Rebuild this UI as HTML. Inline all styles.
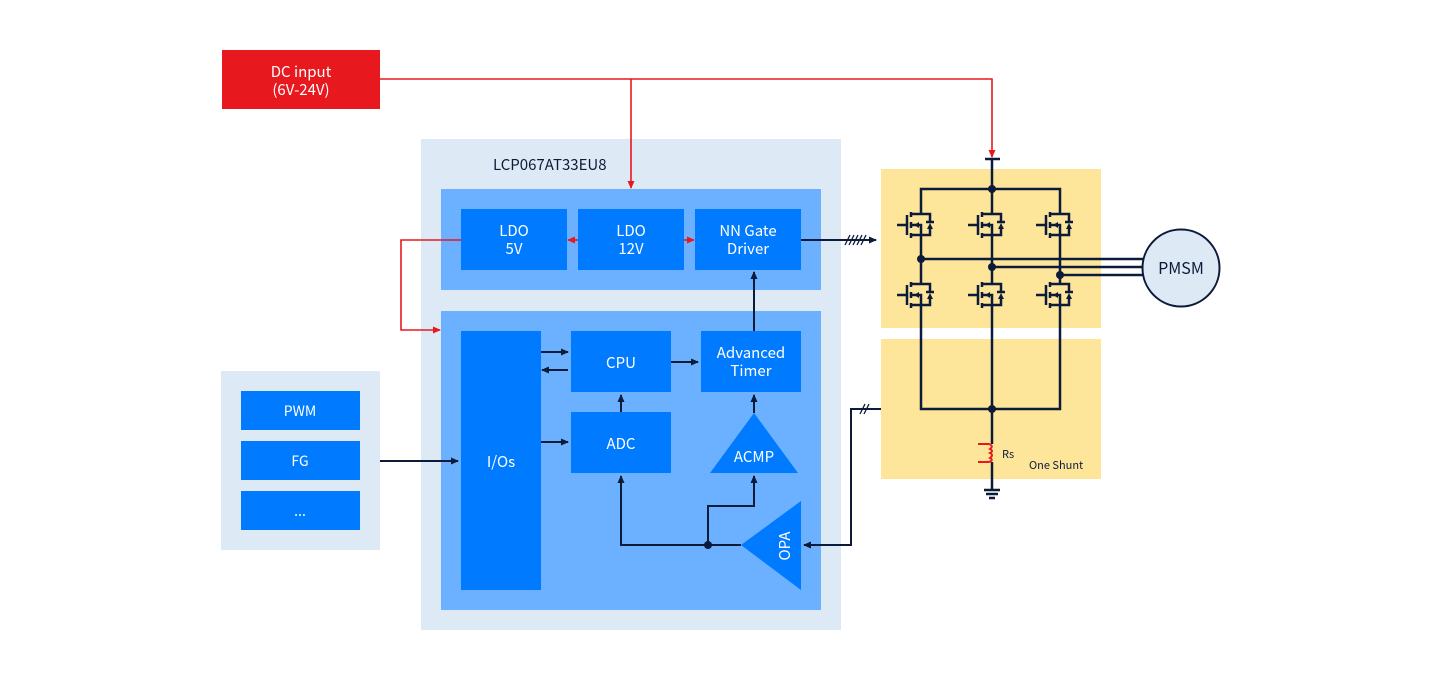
<!DOCTYPE html>
<html><head><meta charset="utf-8"><style>
html,body{margin:0;padding:0;background:#fff;}
svg{display:block;font-family:"Noto Sans CJK SC","Liberation Sans",sans-serif;}
</style></head><body>
<svg width="1440" height="680" viewBox="0 0 1440 680" xmlns="http://www.w3.org/2000/svg">
<defs>
<marker id="ad" markerWidth="8" markerHeight="8" refX="7" refY="4" orient="auto" markerUnits="userSpaceOnUse"><path d="M0,0.5 L8,4 L0,7.5 Z" fill="#0d1b3a"/></marker>
<marker id="ar" markerWidth="8" markerHeight="8" refX="7" refY="4" orient="auto" markerUnits="userSpaceOnUse"><path d="M0,0.5 L8,4 L0,7.5 Z" fill="#e8191e"/></marker>
<g id="fet" fill="none" stroke="#0d1b3a" stroke-width="2.5">
<line x1="-24" y1="0" x2="-14" y2="0"/>
<line x1="-14" y1="-10" x2="-14" y2="10"/>
<line x1="-10" y1="-13" x2="-10" y2="-8"/>
<line x1="-10" y1="-3" x2="-10" y2="3"/>
<line x1="-10" y1="8" x2="-10" y2="13"/>
<polyline points="-10,-11 0,-11 9,-11 9,-3"/>
<line x1="5" y1="-3" x2="13" y2="-3"/>
<polyline points="9,1 9,10 -10,10"/>
<polyline points="-10,0 0,0 0,10"/>
<path d="M-7,0 L-2,-3 L-2,3Z" fill="#0d1b3a" stroke="none"/>
<path d="M9,-2 L6,4 L12,4Z" fill="#0d1b3a" stroke="none"/>
</g>
</defs>

<rect x="222" y="50" width="158" height="59" fill="#e8191e"/>
<text x="301" y="77" fill="#fff" font-size="15" text-anchor="middle">DC input</text>
<text x="301" y="95" fill="#fff" font-size="15" text-anchor="middle">(6V-24V)</text>

<rect x="421" y="139" width="420" height="491" fill="#dde9f5"/>
<text x="493" y="170" fill="#0d1b3a" font-size="15">LCP067AT33EU8</text>
<rect x="441" y="189" width="380" height="101" fill="#6cb1ff"/>
<rect x="441" y="311" width="380" height="299" fill="#6cb1ff"/>

<g fill="#007aff">
<rect x="461" y="209" width="106" height="61"/>
<rect x="578" y="209" width="106" height="61"/>
<rect x="695" y="209" width="106" height="61"/>
<rect x="461" y="331" width="80" height="259"/>
<rect x="571" y="331" width="100" height="61"/>
<rect x="701" y="331" width="100" height="61"/>
<rect x="571" y="412" width="100" height="61"/>
<polygon points="754,413 798,473 710,473"/>
<polygon points="741,545 801,501 801,590"/>
</g>
<g fill="#fff" font-size="15" text-anchor="middle">
<text x="514" y="236">LDO</text><text x="514" y="254">5V</text>
<text x="631" y="236">LDO</text><text x="631" y="254">12V</text>
<text x="748" y="236">NN Gate</text><text x="748" y="254">Driver</text>
<text x="621" y="368">CPU</text>
<text x="751" y="358">Advanced</text><text x="751" y="376">Timer</text>
<text x="621" y="449">ADC</text>
<text x="754" y="462">ACMP</text>
<text x="501" y="467">I/Os</text>
<text x="0" y="0" transform="translate(790,546) rotate(-90)">OPA</text>
</g>

<rect x="221" y="371" width="159" height="179" fill="#dde9f5"/>
<g fill="#007aff">
<rect x="241" y="391" width="119" height="39"/>
<rect x="241" y="441" width="119" height="39"/>
<rect x="241" y="491" width="119" height="39"/>
</g>
<g fill="#fff" font-size="14" text-anchor="middle">
<text x="300" y="416">PWM</text><text x="300" y="466">FG</text><text x="300" y="516">...</text>
</g>

<g fill="none" stroke="#e8191e" stroke-width="1.6">
<polyline points="380,79 992,79 992,157" marker-end="url(#ar)"/>
<line x1="631" y1="79" x2="631" y2="188" marker-end="url(#ar)"/>
<line x1="578" y1="240" x2="568" y2="240" marker-end="url(#ar)"/>
<line x1="684" y1="240" x2="694" y2="240" marker-end="url(#ar)"/>
<polyline points="461,240 401,240 401,330 440,330" marker-end="url(#ar)"/>
</g>

<g fill="none" stroke="#0d1b3a" stroke-width="2">
<line x1="801" y1="240" x2="876" y2="240" marker-end="url(#ad)"/>
<line x1="541" y1="352" x2="568" y2="352" marker-end="url(#ad)"/>
<line x1="568" y1="370" x2="542" y2="370" marker-end="url(#ad)"/>
<line x1="541" y1="442" x2="568" y2="442" marker-end="url(#ad)"/>
<line x1="671" y1="362" x2="698" y2="362" marker-end="url(#ad)"/>
<line x1="754" y1="331" x2="754" y2="272" marker-end="url(#ad)"/>
<line x1="621" y1="412" x2="621" y2="395" marker-end="url(#ad)"/>
<line x1="754" y1="413" x2="754" y2="395" marker-end="url(#ad)"/>
<polyline points="741,545 621,545 621,476" marker-end="url(#ad)"/>
<polyline points="708,545 708,506 754,506 754,476" marker-end="url(#ad)"/>
<line x1="380" y1="461" x2="458" y2="461" marker-end="url(#ad)"/>
<polyline points="881,409 851,409 851,545 804,545" marker-end="url(#ad)"/>
</g>
<circle cx="708" cy="545" r="4" fill="#0d1b3a"/>
<g stroke="#0d1b3a" stroke-width="1.3">
<line x1="845" y1="245" x2="850" y2="235"/><line x1="849" y1="245" x2="854" y2="235"/>
<line x1="853" y1="245" x2="858" y2="235"/><line x1="857" y1="245" x2="862" y2="235"/>
<line x1="861" y1="245" x2="866" y2="235"/>
<line x1="860" y1="414" x2="865" y2="404"/><line x1="864" y1="414" x2="869" y2="404"/>
</g>

<rect x="881" y="169" width="220" height="159" fill="#fde59a"/>
<rect x="881" y="339" width="220" height="140" fill="#fde59a"/>

<g fill="none" stroke="#0d1b3a" stroke-width="2.5">
<line x1="985" y1="159" x2="1000" y2="159"/>
<line x1="992" y1="159" x2="992" y2="189"/>
<polyline points="921,214 921,189 1060,189 1060,214"/>
<line x1="992" y1="189" x2="992" y2="214"/>
<line x1="921" y1="235" x2="921" y2="284"/>
<line x1="992" y1="235" x2="992" y2="284"/>
<line x1="1060" y1="235" x2="1060" y2="284"/>
<polyline points="921,305 921,409 1060,409 1060,305"/>
<line x1="992" y1="305" x2="992" y2="444"/>
<line x1="992" y1="462" x2="992" y2="490"/>
<line x1="921" y1="259" x2="1143" y2="259"/>
<line x1="992" y1="267" x2="1143" y2="267"/>
<line x1="1060" y1="275" x2="1143" y2="275"/>
<line x1="984" y1="490" x2="1000" y2="490"/>
<line x1="986" y1="494" x2="998" y2="494"/>
<line x1="989" y1="498" x2="995" y2="498"/>
</g>
<use href="#fet" x="921" y="225"/><use href="#fet" x="992" y="225"/><use href="#fet" x="1060" y="225"/>
<use href="#fet" x="921" y="295"/><use href="#fet" x="992" y="295"/><use href="#fet" x="1060" y="295"/>
<g fill="#0d1b3a">
<circle cx="992" cy="189" r="4"/><circle cx="921" cy="259" r="4"/>
<circle cx="992" cy="267" r="4"/><circle cx="1060" cy="275" r="4"/>
<circle cx="992" cy="409" r="4"/>
</g>
<path d="M978,444 L989,444 Q994,446 990,449 Q994,451 990,453 Q994,455 990,458 Q994,460 989,462 L978,462" fill="none" stroke="#e8191e" stroke-width="2"/>
<text x="1002" y="458" font-size="11" fill="#0d1b3a">Rs</text>
<text x="1029" y="469" font-size="11" fill="#0d1b3a">One Shunt</text>

<circle cx="1181" cy="268" r="38.5" fill="#dde9f5" stroke="#0d1b3a" stroke-width="2"/>
<text x="1181" y="274" font-size="16" fill="#0d1b3a" text-anchor="middle">PMSM</text>
</svg>
</body></html>
